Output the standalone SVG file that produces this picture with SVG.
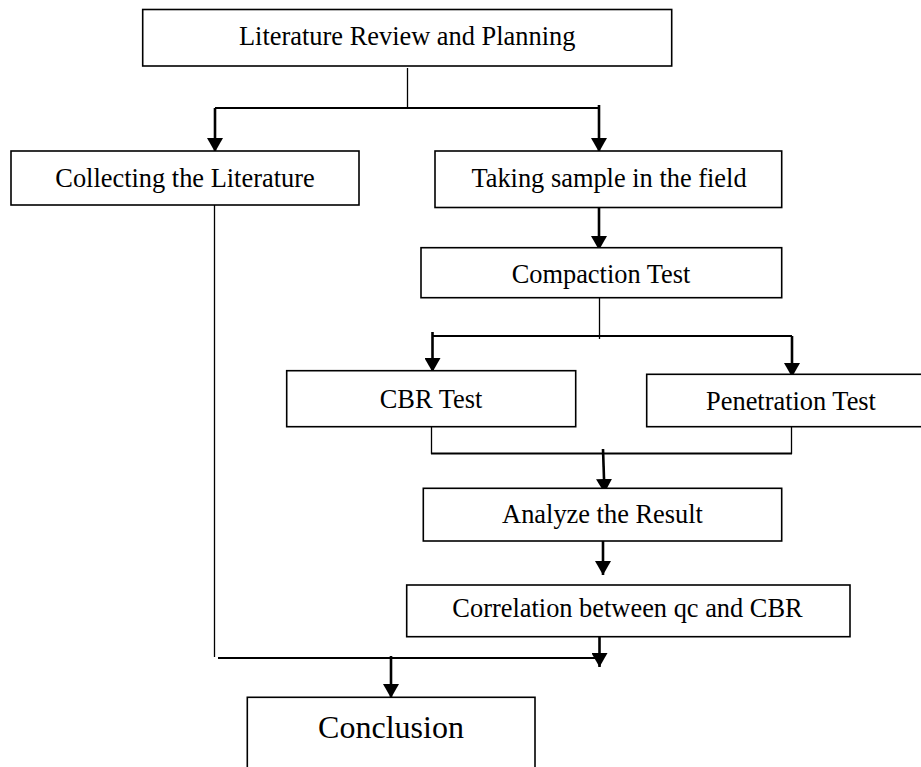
<svg xmlns="http://www.w3.org/2000/svg" width="921" height="767" viewBox="0 0 921 767">
<defs>
<marker id="ah" markerUnits="userSpaceOnUse" markerWidth="14" markerHeight="16" viewBox="0 0 14 16" refX="14" refY="8" orient="auto">
<path d="M0,0 L14,8 L0,16 z" fill="#000"/>
</marker>
</defs>
<style>
rect{fill:#fff;stroke:#000;stroke-width:1.6}
text{font-family:"Liberation Serif","Times New Roman",serif;font-size:26.4px;fill:#000;text-anchor:middle}
.big{font-size:32px}
.thin{stroke:#000;stroke-width:1.3;fill:none}
.mid{stroke:#000;stroke-width:1.8;fill:none}
.arr{stroke:#000;stroke-width:2.6;fill:none;marker-end:url(#ah)}
</style>
<rect x="0" y="0" width="921" height="767" style="fill:#fff;stroke:none"/>
<g id="connectors">
<line class="thin" x1="407.5" y1="68" x2="407.5" y2="108"/>
<line class="mid" x1="215" y1="108" x2="599" y2="108"/>
<line class="arr" x1="215" y1="108" x2="215" y2="152"/>
<line class="arr" x1="599" y1="105" x2="599" y2="152"/>
<line class="arr" x1="599" y1="202" x2="599" y2="250"/>
<line class="thin" x1="599.5" y1="297" x2="599.5" y2="339"/>
<line class="mid" x1="432" y1="336" x2="792" y2="336"/>
<line class="arr" x1="432.5" y1="332" x2="432.5" y2="372"/>
<line class="arr" x1="792" y1="336" x2="792" y2="377"/>
<line class="thin" x1="431.5" y1="420" x2="431.5" y2="454"/>
<line class="thin" x1="791.5" y1="420" x2="791.5" y2="454"/>
<line class="mid" x1="431" y1="453.5" x2="792" y2="453.5"/>
<line class="arr" x1="603" y1="449" x2="604.5" y2="493"/>
<line class="arr" x1="603" y1="537" x2="603" y2="575"/>
<line class="thin" x1="214.5" y1="197" x2="214.5" y2="657"/>
<line class="mid" x1="218" y1="658" x2="597" y2="658"/>
<line class="arr" x1="599.5" y1="630" x2="599.5" y2="667"/>
<line class="arr" x1="391" y1="656" x2="391" y2="698"/>
</g>
<g id="literature-review">
<rect x="142.7" y="9.5" width="529" height="56.5"/>
<text x="407.2" y="45">Literature Review and Planning</text>
</g>
<g id="collecting">
<rect x="11" y="151" width="348" height="54"/>
<text x="185" y="187">Collecting the Literature</text>
</g>
<g id="taking-sample">
<rect x="435" y="151" width="346.7" height="56.5"/>
<text x="609" y="187">Taking sample in the field</text>
</g>
<g id="compaction">
<rect x="421" y="247.7" width="360.7" height="50"/>
<text x="601" y="283">Compaction Test</text>
</g>
<g id="cbr">
<rect x="286.7" y="370.7" width="289" height="56"/>
<text x="431" y="407.5">CBR Test</text>
</g>
<g id="penetration">
<rect x="646.7" y="374.3" width="290" height="52.4"/>
<text x="791" y="410">Penetration Test</text>
</g>
<g id="analyze">
<rect x="423.3" y="488.3" width="358.4" height="52.7"/>
<text x="602.5" y="523">Analyze the Result</text>
</g>
<g id="correlation">
<rect x="406.7" y="585" width="443.3" height="51.7"/>
<text x="627.5" y="616.7">Correlation between qc and CBR</text>
</g>
<g id="conclusion">
<rect x="247.3" y="697.3" width="287.7" height="90"/>
<text class="big" x="391" y="738">Conclusion</text>
</g>
</svg>
